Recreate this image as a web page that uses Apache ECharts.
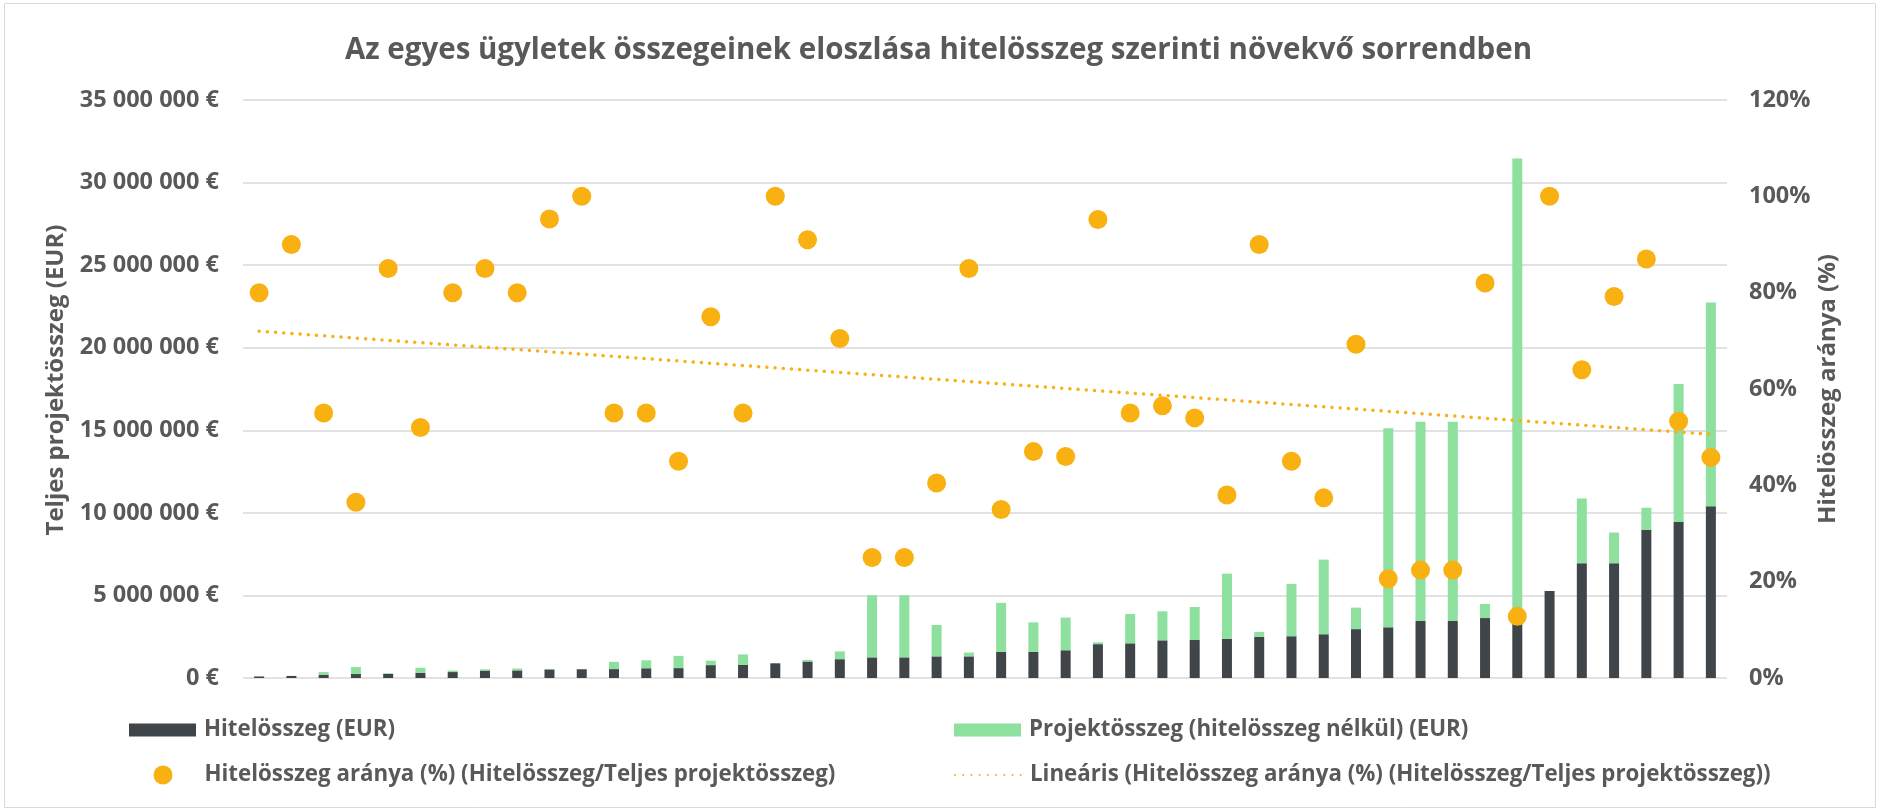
<!DOCTYPE html>
<html>
<head>
<meta charset="utf-8">
<script src="https://cdn.jsdelivr.net/npm/echarts@6/dist/echarts.min.js"></script>
<style>
html,body{margin:0;padding:0;background:#fff;}
#chart{width:1877px;height:808px;}
</style>
</head>
<body>
<div id="chart"></div>
<script>
// ---- Data ----
const categories = ['1','2','3','4','5','6','7','8','9','10','11','12','13','14','15','16','17','18','19','20','21','22','23','24','25','26','27','28','29','30','31','32','33','34','35','36','37','38','39','40','41','42','43','44','45','46'];

// Hitelösszeg (EUR)
const loanAmount = [100000, 120000, 200000, 240000, 250000, 320000, 360000, 450000, 460000, 520000,
  530000, 540000, 590000, 600000, 780000, 790000, 890000, 1000000, 1140000, 1250000,
  1250000, 1310000, 1310000, 1580000, 1580000, 1680000, 2050000, 2100000, 2280000, 2300000,
  2380000, 2490000, 2530000, 2650000, 2960000, 3070000, 3450000, 3450000, 3630000, 4030000,
  5270000, 6950000, 6950000, 8970000, 9440000, 10400000];

// Projektösszeg (hitelösszeg nélkül) (EUR)
const projectRest = [25000, 13000, 160000, 420000, 40000, 300000, 90000, 80000, 110000, 30000,
  0, 440000, 480000, 740000, 270000, 640000, 0, 100000, 470000, 3760000,
  3760000, 1900000, 230000, 2970000, 1790000, 1980000, 110000, 1780000, 1760000, 2000000,
  3940000, 300000, 3170000, 4520000, 1300000, 12060000, 12070000, 12070000, 850000, 27430000,
  0, 3920000, 1860000, 1340000, 8360000, 12340000];

// Hitelösszeg aránya (%)
const loanShare = [80, 90, 55, 36.5, 85, 52, 80, 85, 80, 95.3,
  100, 55, 55, 45, 75, 55, 100, 91, 70.5, 25,
  25, 40.5, 85, 35, 47, 46, 95.2, 55, 56.5, 54,
  38, 90, 45, 37.4, 69.3, 20.6, 22.4, 22.4, 82, 12.8,
  100, 64, 79.2, 87, 53.3, 45.8];

// Lineáris trendvonal végpontjai (%), első és utolsó kategóriánál
const trendEnds = [72.0, 50.6];

const seriesNames = [
  'Hitelösszeg (EUR)',
  'Projektösszeg (hitelösszeg nélkül) (EUR)',
  'Hitelösszeg aránya (%) (Hitelösszeg/Teljes projektösszeg)',
  'Lineáris (Hitelösszeg aránya (%) (Hitelösszeg/Teljes projektösszeg))'
];
const titleText = 'Az egyes ügyletek összegeinek eloszlása hitelösszeg szerinti növekvő sorrendben';
const leftAxisName = 'Teljes projektösszeg (EUR)';
const rightAxisName = 'Hitelösszeg aránya (%)';

// ---- Styling ----
const FONT = "'Open Sans', 'Noto Sans', sans-serif";
const TXT = '#595959';
const DARK = '#404549';
const GREEN = '#8EE09E';
const ORANGE = '#F9B011';

function fmtEur(v){
  return String(v).replace(/\B(?=(\d{3})+(?!\d))/g, ' ') + ' €';
}

const chart = echarts.init(document.getElementById('chart'), null, {renderer:'canvas'});

const legendText = {fontFamily: FONT, fontWeight: 'bold', fontSize: 22.3, color: TXT, lineHeight: 26};
const legendBase = {orient: 'horizontal', padding: 0, selectedMode: false};

const option = {
  backgroundColor: '#ffffff',
  animation: false,
  textStyle: {fontFamily: FONT},
  title: {
    text: titleText, left: 'center', top: 28,
    textStyle: {fontFamily: FONT, fontWeight: 'bold', fontSize: 29.5, color: TXT, lineHeight: 36}
  },
  graphic: [
    {type:'rect', left: 2, top: 1, shape:{width:1871, height:804}, style:{fill:'none', stroke:'#d9d9d9', lineWidth:1}, silent:true},
    {type:'text', x: 56, y: 380, rotation: Math.PI/2,
      style:{text: leftAxisName, fill: TXT, font: "bold 24px 'Open Sans', sans-serif", align:'center', verticalAlign:'middle'}},
    {type:'text', x: 1828, y: 389, rotation: Math.PI/2,
      style:{text: rightAxisName, fill: TXT, font: "bold 24px 'Open Sans', sans-serif", align:'center', verticalAlign:'middle'}}
  ],
  legend: [
    Object.assign({}, legendBase, {data:[{name: seriesNames[0], icon:'rect'}], left: 129, top: 717,
      itemWidth: 67, itemHeight: 13, textStyle: Object.assign({}, legendText, {padding:[0,0,0,3]})}),
    Object.assign({}, legendBase, {data:[{name: seriesNames[1], icon:'rect'}], left: 954, top: 717,
      itemWidth: 67, itemHeight: 13, textStyle: Object.assign({}, legendText, {padding:[0,0,0,3]})}),
    Object.assign({}, legendBase, {data:[{name: seriesNames[2], icon:'circle'}], left: 153.5, top: 762,
      itemWidth: 19, itemHeight: 19, textStyle: Object.assign({}, legendText, {padding:[0,0,0,27]})}),
    Object.assign({}, legendBase, {data:[{name: seriesNames[3]}], left: 954, top: 762,
      itemWidth: 67, itemHeight: 14, itemStyle: {color: 'rgba(0,0,0,0)', borderWidth: 0, opacity: 0},
      textStyle: Object.assign({}, legendText, {padding:[0,0,0,3]})})
  ],
  grid: {left: 243, right: 150, top: 100, bottom: 130, containLabel: false},
  xAxis: {
    type: 'category', data: categories, boundaryGap: true,
    axisLine: {show: false}, axisTick: {show: false}, axisLabel: {show: false}, splitLine: {show: false}
  },
  yAxis: [
    {
      type: 'value', min: 0, max: 35000000, interval: 5000000,
      axisLine: {show: false}, axisTick: {show: false},
      axisLabel: {formatter: fmtEur, margin: 24, fontFamily: FONT, fontWeight: 'bold', fontSize: 23.5, color: TXT},
      splitLine: {show: true, lineStyle: {color: '#d9d9d9', width: 1.5}}
    },
    {
      type: 'value', min: 0, max: 120, interval: 20, position: 'right',
      axisLine: {show: false}, axisTick: {show: false},
      axisLabel: {formatter: '{value}%', margin: 22, fontFamily: FONT, fontWeight: 'bold', fontSize: 23.5, color: TXT},
      splitLine: {show: false}
    }
  ],
  series: [
    {name: seriesNames[0], type: 'bar', stack: 'total', data: loanAmount, barWidth: 10,
      itemStyle: {color: DARK}, yAxisIndex: 0},
    {name: seriesNames[1], type: 'bar', stack: 'total', data: projectRest, barWidth: 10,
      itemStyle: {color: GREEN}, yAxisIndex: 0},
    {name: seriesNames[2], type: 'scatter', data: loanShare, yAxisIndex: 1,
      symbol: 'circle', symbolSize: 19, itemStyle: {color: ORANGE, opacity: 1}, z: 3},
    {name: seriesNames[3], type: 'line', yAxisIndex: 1, symbol: 'none', showSymbol: false, z: 4,
      data: [[categories[0], trendEnds[0]], [categories[categories.length-1], trendEnds[1]]],
      lineStyle: {color: ORANGE, width: 3.5, type: [0.01, 8.2], cap: 'round'},
      itemStyle: {color: ORANGE}}
  ]
};
chart.setOption(option);
</script>
</body>
</html>
